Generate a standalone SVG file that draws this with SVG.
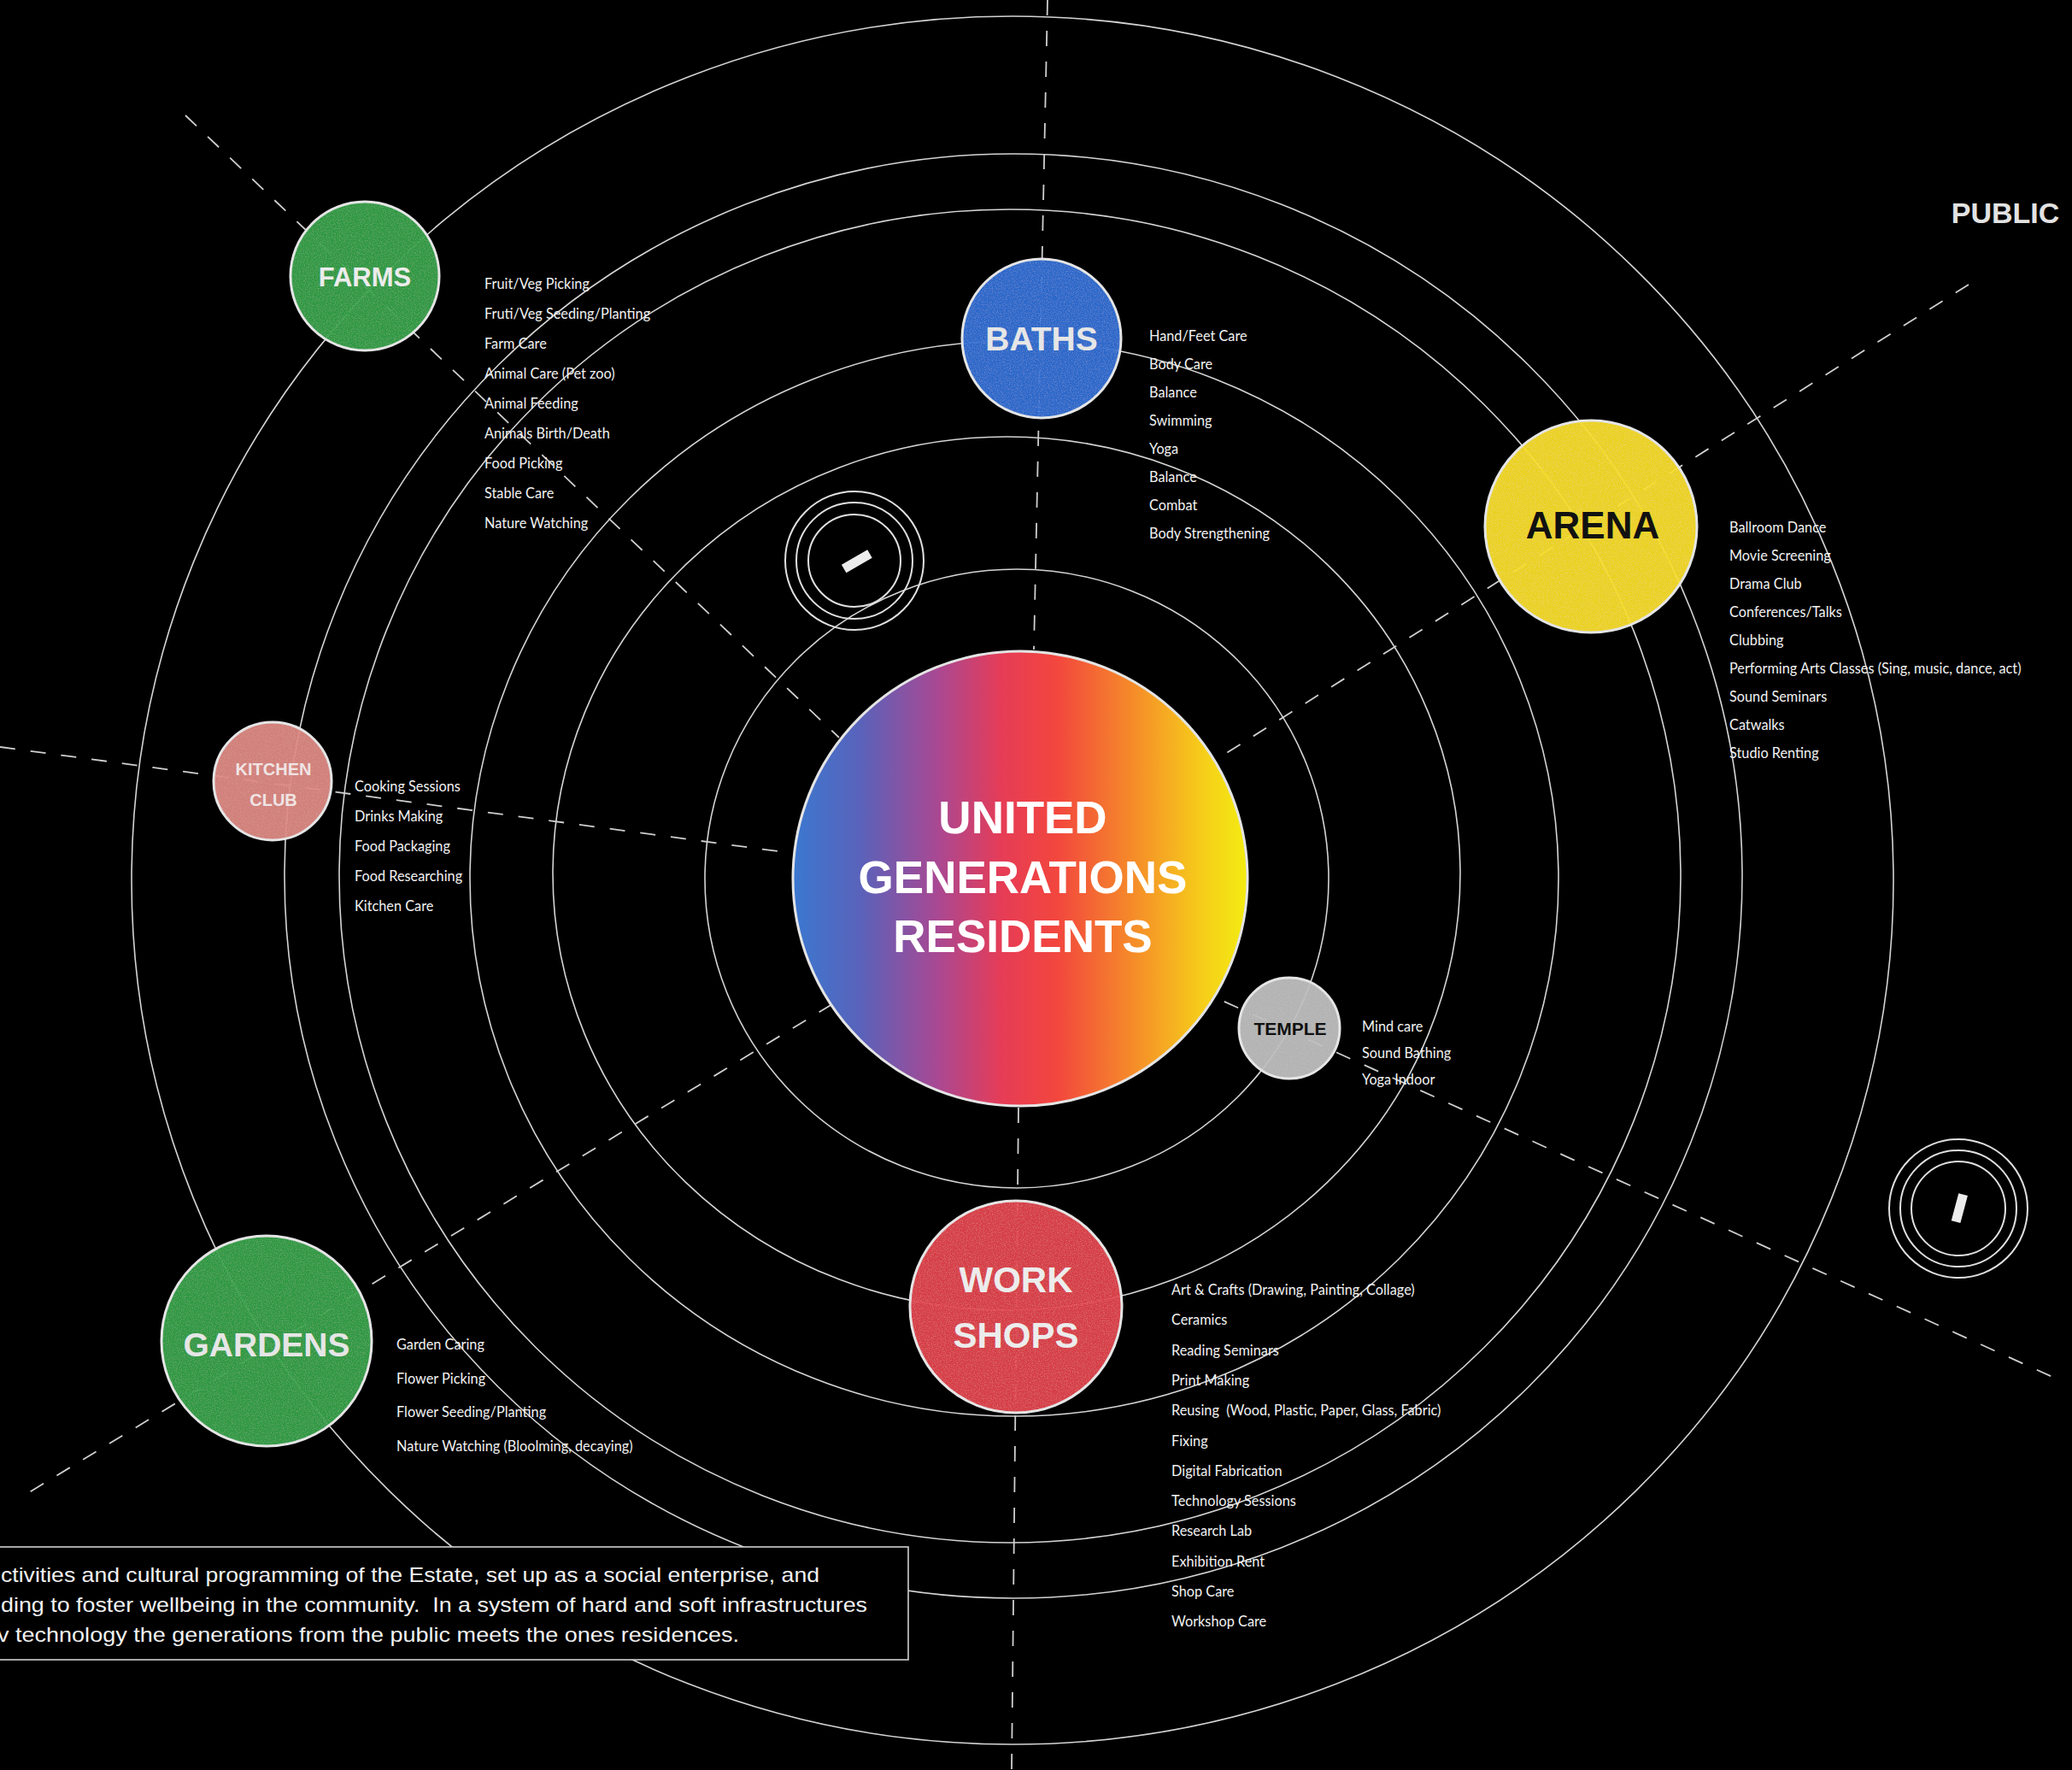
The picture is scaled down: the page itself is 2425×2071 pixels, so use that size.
<svg xmlns="http://www.w3.org/2000/svg" width="2425" height="2071" viewBox="0 0 2425 2071">
<defs>
<linearGradient id="core" x1="0" y1="0" x2="1" y2="0">
<stop offset="0" stop-color="#3b78d0"/>
<stop offset="0.15" stop-color="#5a62ba"/>
<stop offset="0.32" stop-color="#aa4892"/>
<stop offset="0.46" stop-color="#e63c56"/>
<stop offset="0.58" stop-color="#f2463e"/>
<stop offset="0.74" stop-color="#f5882a"/>
<stop offset="0.9" stop-color="#f6cd1a"/>
<stop offset="1" stop-color="#f3ec12"/>
</linearGradient>
<filter id="grain" x="-2%" y="-2%" width="104%" height="104%">
<feTurbulence type="fractalNoise" baseFrequency="0.8" numOctaves="2" seed="7" result="noise"/>
<feColorMatrix in="noise" type="matrix" values="0 0 0 0 1  0 0 0 0 1  0 0 0 0 1  0 0 0 0.3 -0.13" result="speck"/>
<feComposite in="speck" in2="SourceGraphic" operator="in" result="s2"/>
<feMerge><feMergeNode in="SourceGraphic"/><feMergeNode in="s2"/></feMerge>
</filter>
<style>
.orbit{fill:none;stroke:#d4d4d4;stroke-width:1.6}
.ray{fill:none;stroke:#cfcfcf;stroke-width:1.8;stroke-dasharray:18 18}
.node{stroke:#e4e4e4;stroke-width:3;fill-opacity:0.95;filter:url(#grain)}
.ring{fill:none;stroke:#e0e0e0;stroke-width:2}
.title{font-family:"Liberation Sans",Arial,Helvetica,sans-serif;font-weight:bold;text-anchor:middle}
.item{font-family:Lato,"Open Sans",sans-serif;font-size:16.3px;fill:#f2f2f2}
.note{font-family:"Liberation Sans",Arial,sans-serif;font-size:24px;fill:#f2f2f2;white-space:pre}
</style>
</defs>
<rect x="0" y="0" width="2425" height="2071" fill="#000"/>
<g id="orbits">
<ellipse class="orbit" cx="1190" cy="1028" rx="365" ry="362"/>
<ellipse class="orbit" cx="1178" cy="1022" rx="531" ry="511"/>
<ellipse class="orbit" cx="1187" cy="1028" rx="637" ry="629"/>
<ellipse class="orbit" cx="1182" cy="1025" rx="785" ry="780"/>
<ellipse class="orbit" cx="1186" cy="1025" rx="853" ry="845"/>
<ellipse class="orbit" cx="1185" cy="1030" rx="1031" ry="1011"/>
</g>
<g id="connectors">
<line class="ray" x1="1226" y1="0" x2="1210" y2="760"/>
<line class="ray" x1="1192" y1="1296" x2="1184" y2="2071"/>
<line class="ray" x1="217" y1="135" x2="982" y2="863"/>
<line class="ray" x1="2304" y1="333" x2="1423" y2="889"/>
<line class="ray" x1="0" y1="874" x2="925" y2="998"/>
<line class="ray" x1="974" y1="1175" x2="31" y2="1748"/>
<line class="ray" x1="1400" y1="1157" x2="2413" y2="1616"/>
</g>
<g id="core-node">
<circle cx="1194" cy="1028" r="266" fill="url(#core)" stroke="#e4e4e4" stroke-width="3"/>
<text class="title" font-size="53" fill="#fff"><tspan x="1197" y="975">UNITED</tspan><tspan x="1197" y="1045">GENERATIONS</tspan><tspan x="1197" y="1114">RESIDENTS</tspan></text>
</g>
<g id="farms">
<circle class="node" cx="427" cy="323" r="87" fill="#2ea044"/>
<text class="title" x="427" y="335" font-size="31" fill="#ececec">FARMS</text>
<text class="item"><tspan x="567" y="338">Fruit/Veg Picking</tspan><tspan x="567" y="373">Fruti/Veg Seeding/Planting</tspan><tspan x="567" y="408">Farm Care</tspan><tspan x="567" y="443">Animal Care (Pet zoo)</tspan><tspan x="567" y="478">Animal Feeding</tspan><tspan x="567" y="513">Animals Birth/Death</tspan><tspan x="567" y="548">Food Picking</tspan><tspan x="567" y="583">Stable Care</tspan><tspan x="567" y="618">Nature Watching</tspan></text>
</g>
<g id="baths">
<circle class="node" cx="1219" cy="396" r="93" fill="#2a6ed4"/>
<text class="title" x="1219" y="410" font-size="39" fill="#e6e6e6">BATHS</text>
<text class="item"><tspan x="1345" y="399">Hand/Feet Care</tspan><tspan x="1345" y="432">Body Care</tspan><tspan x="1345" y="465">Balance</tspan><tspan x="1345" y="498">Swimming</tspan><tspan x="1345" y="531">Yoga</tspan><tspan x="1345" y="564">Balance</tspan><tspan x="1345" y="597">Combat</tspan><tspan x="1345" y="630">Body Strengthening</tspan></text>
</g>
<g id="arena">
<circle class="node" cx="1862" cy="616" r="124" fill="#f8dc1c"/>
<text class="title" x="1864" y="630" font-size="44" fill="#111">ARENA</text>
<text class="item"><tspan x="2024" y="623">Ballroom Dance</tspan><tspan x="2024" y="656">Movie Screening</tspan><tspan x="2024" y="689">Drama Club</tspan><tspan x="2024" y="722">Conferences/Talks</tspan><tspan x="2024" y="755">Clubbing</tspan><tspan x="2024" y="788">Performing Arts Classes (Sing, music, dance, act)</tspan><tspan x="2024" y="821">Sound Seminars</tspan><tspan x="2024" y="854">Catwalks</tspan><tspan x="2024" y="887">Studio Renting</tspan></text>
</g>
<g id="kitchen-club">
<circle class="node" cx="319" cy="914" r="69" fill="#dc8680"/>
<text class="title" font-size="20" fill="#f0e4e4"><tspan x="320" y="907">KITCHEN</tspan><tspan x="320" y="943">CLUB</tspan></text>
<text class="item"><tspan x="415" y="926">Cooking Sessions</tspan><tspan x="415" y="961">Drinks Making</tspan><tspan x="415" y="996">Food Packaging</tspan><tspan x="415" y="1031">Food Researching</tspan><tspan x="415" y="1066">Kitchen Care</tspan></text>
</g>
<g id="temple">
<circle class="node" cx="1509" cy="1203" r="59" fill="#bdbdbd"/>
<text class="title" x="1510" y="1211" font-size="21" fill="#111">TEMPLE</text>
<text class="item"><tspan x="1594" y="1207">Mind care</tspan><tspan x="1594" y="1238">Sound Bathing</tspan><tspan x="1594" y="1269">Yoga Indoor</tspan></text>
</g>
<g id="gardens">
<circle class="node" cx="312" cy="1569" r="123" fill="#2ea044"/>
<text class="title" x="312" y="1587" font-size="39" fill="#e6e6e6">GARDENS</text>
<text class="item"><tspan x="464" y="1579">Garden Caring</tspan><tspan x="464" y="1619">Flower Picking</tspan><tspan x="464" y="1658">Flower Seeding/Planting</tspan><tspan x="464" y="1698">Nature Watching (Bloolming, decaying)</tspan></text>
</g>
<g id="workshops">
<circle class="node" cx="1189" cy="1529" r="124" fill="#e23e48"/>
<text class="title" font-size="42" fill="#ececec"><tspan x="1189" y="1512">WORK</tspan><tspan x="1189" y="1577">SHOPS</tspan></text>
<text class="item"><tspan x="1371" y="1515">Art &amp; Crafts (Drawing, Painting, Collage)</tspan><tspan x="1371" y="1550">Ceramics</tspan><tspan x="1371" y="1586">Reading Seminars</tspan><tspan x="1371" y="1621">Print Making</tspan><tspan x="1371" y="1656" style="white-space:pre">Reusing  (Wood, Plastic, Paper, Glass, Fabric)</tspan><tspan x="1371" y="1692">Fixing</tspan><tspan x="1371" y="1727">Digital Fabrication</tspan><tspan x="1371" y="1762">Technology Sessions</tspan><tspan x="1371" y="1797">Research Lab</tspan><tspan x="1371" y="1833">Exhibition Rent</tspan><tspan x="1371" y="1868">Shop Care</tspan><tspan x="1371" y="1903">Workshop Care</tspan></text>
</g>
<g id="marker-1">
<circle class="ring" cx="1000" cy="656" r="81"/>
<circle class="ring" cx="1000" cy="656" r="68"/>
<circle class="ring" cx="1000" cy="656" r="54"/>
<rect x="985" y="651" width="35" height="11" fill="#ececec" transform="rotate(-30 1003 656)"/>
</g>
<g id="marker-2">
<circle class="ring" cx="2292" cy="1414" r="81"/>
<circle class="ring" cx="2292" cy="1414" r="68"/>
<circle class="ring" cx="2292" cy="1414" r="55"/>
<rect x="2288" y="1397" width="11" height="33" fill="#ececec" transform="rotate(15 2293 1413)"/>
</g>
<g id="public-label">
<text class="title" x="2347" y="261" font-size="34" fill="#e2e2e2">PUBLIC</text>
</g>
<g id="note">
<rect x="-5" y="1810" width="1068" height="132" fill="#000" stroke="#d0d0d0" stroke-width="1.6"/>
<text class="note" x="1" y="1851" textLength="958" lengthAdjust="spacingAndGlyphs">ctivities and cultural programming of the Estate, set up as a social enterprise, and</text>
<text class="note" x="1" y="1886" textLength="1014" lengthAdjust="spacingAndGlyphs">ding to foster wellbeing in the community.  In a system of hard and soft infrastructures</text>
<text class="note" x="-3" y="1921" textLength="868" lengthAdjust="spacingAndGlyphs">v technology the generations from the public meets the ones residences.</text>
</g>
</svg>
